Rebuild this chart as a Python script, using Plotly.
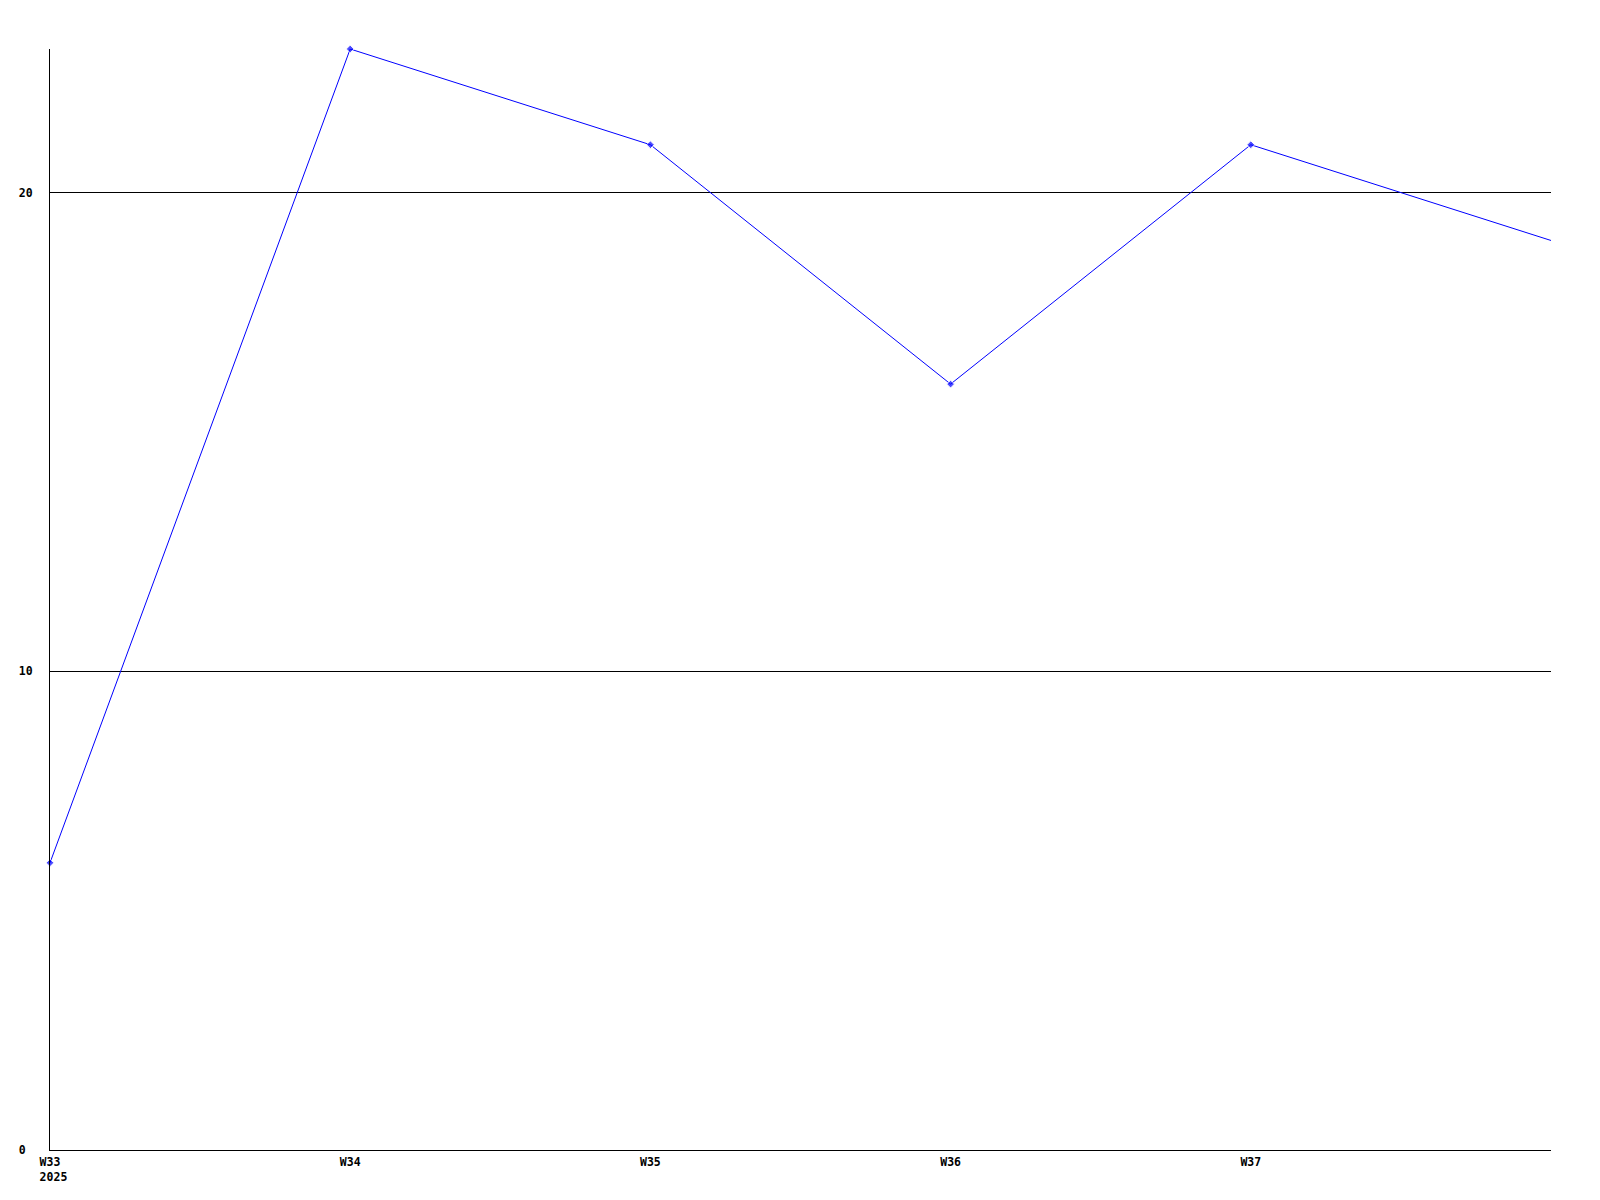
import plotly.graph_objects as go

weeks = ["W33", "W34", "W35", "W36", "W37", "W38"]
tick_labels = ["W33<br>\u00a02025", "W34", "W35", "W36", "W37"]
values = [6, 23, 21, 16, 21, 19]
y_ticks = [0, 10, 20]
y_tick_labels = ["0\u00a0", "10", "20"]

x_idx = list(range(len(weeks)))

fig = go.Figure()
fig.add_trace(go.Scatter(
    x=x_idx, y=values, mode="lines+markers",
    line=dict(color="#0000FF", width=1),
    marker=dict(symbol="diamond", size=[6, 6, 6, 6, 6, 0], color="#0000FF"),
    cliponaxis=False, hoverinfo="skip", showlegend=False,
))

font = dict(family="DejaVu Sans Mono", size=11.5, color="black", weight="bold")

fig.update_layout(
    width=1592, height=1192,
    margin=dict(l=42, r=49, t=41, b=50),
    paper_bgcolor="white", plot_bgcolor="white",
    font=font,
    xaxis=dict(
        range=[0, 5], tickvals=x_idx[:5], ticktext=tick_labels,
        showgrid=False, zeroline=False, showline=True, linecolor="black", linewidth=1,
        ticks="", ticklabelstandoff=1, tickfont=font,
    ),
    yaxis=dict(
        range=[0, 23], tickvals=y_ticks, ticktext=y_tick_labels,
        showgrid=True, gridcolor="black", gridwidth=1, zeroline=False,
        showline=True, linecolor="black", linewidth=1,
        ticks="", ticklabelstandoff=14, tickfont=font,
    ),
)

fig.write_html("out.html")
